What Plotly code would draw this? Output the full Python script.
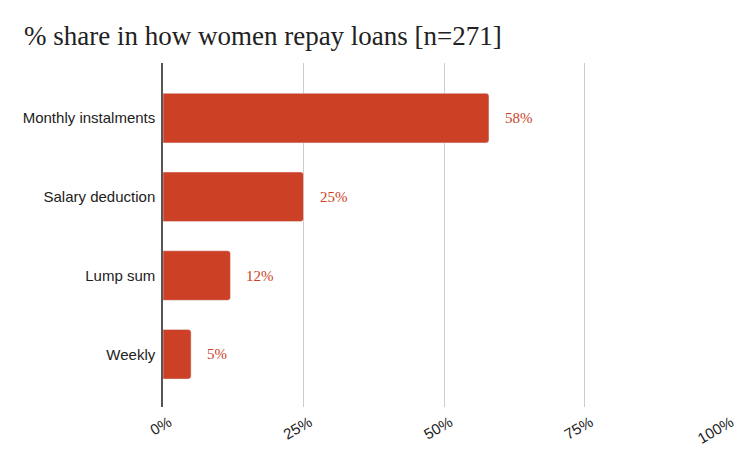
import plotly.graph_objects as go

# data
categories = ["Monthly instalments", "Salary deduction", "Lump sum", "Weekly"]
shares = [58, 25, 12, 5]
labels = ["58%", "25%", "12%", "5%"]
tick_vals = [0, 25, 50, 75, 100]
tick_text = ["0%", "25%", "50%", "75%", "100%"]

bar_color = "#cc4125"

fig = go.Figure()
fig.add_trace(go.Bar(
    x=shares,
    y=categories,
    orientation="h",
    width=0.63,
    marker=dict(color=bar_color, cornerradius=3),
    hoverinfo="skip",
))

# value labels, a bit to the right of each bar end
for cat, val, lab in zip(categories, shares, labels):
    fig.add_annotation(
        x=val, y=cat, text=lab, showarrow=False,
        xanchor="left", xshift=14,
        font=dict(family="'Liberation Serif', serif", size=15, color=bar_color),
    )

# the page body adds an 8px offset, so margins are set 8px smaller on top/left
fig.update_layout(
    width=750, height=463,
    title=dict(
        text="% share in how women repay loans [n=271]",
        xref="container", x=0.0213, xanchor="left",
        yref="container", y=0.94, yanchor="middle",
        font=dict(family="'Liberation Serif', serif", size=27, color="#222"),
    ),
    plot_bgcolor="white",
    paper_bgcolor="white",
    margin=dict(l=155, r=33, t=55, b=64, autoexpand=False),
    showlegend=False,
    font=dict(family="Arial, 'Liberation Sans', sans-serif", size=15, color="#222"),
)

fig.update_xaxes(
    range=[0, 100],
    tickvals=tick_vals,
    ticktext=tick_text,
    tickangle=-30,
    ticklabelshift=6,
    ticklabelstandoff=3,
    showgrid=True, gridcolor="#cccccc", gridwidth=1,
    zeroline=False,
    showline=False,
    automargin=False,
    tickfont=dict(size=15, color="#222"),
)
fig.update_yaxes(
    categoryorder="array",
    categoryarray=categories,
    range=[3.67, -0.7],
    showline=True, linecolor="#555", linewidth=1.5,
    ticks="", ticklen=0,
    ticklabelstandoff=3,
    automargin=False,
    tickfont=dict(size=15, color="#222"),
)

fig.write_html("out.html")
